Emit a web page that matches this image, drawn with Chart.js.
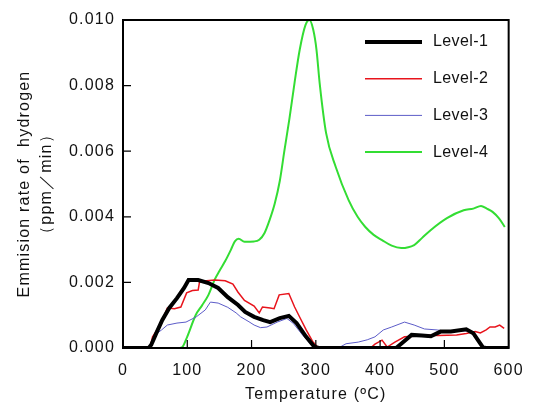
<!DOCTYPE html>
<html>
<head>
<meta charset="utf-8">
<script src="https://cdn.jsdelivr.net/npm/chart.js"></script>
<style>
  body { margin: 0; background: #fff; }
</style>
</head>
<body>
<canvas id="chart" width="535" height="408"></canvas>
<script>
// temperature (oC) / emission rate (ppm/min)
const level1T = [0, 20, 40, 44, 52, 61, 72, 84, 95, 102, 117, 133, 148, 163, 179, 190, 204, 218, 229, 244, 258, 270, 285, 298, 305, 425, 437, 449, 465, 479, 494, 510, 534, 545, 552, 560, 565, 600];
const level1V = [0, 0, 0, 0.0001, 0.00046, 0.00085, 0.00122, 0.00152, 0.00183, 0.00207, 0.00207, 0.00198, 0.00183, 0.00155, 0.00131, 0.0011, 0.00095, 0.00085, 0.00079, 0.00091, 0.00098, 0.00076, 0.00034, 0.00003, 0, 0, 0.0002, 0.0004, 0.00038, 0.00036, 0.0005, 0.0005, 0.00057, 0.00045, 0.00025, 0.00002, 0, 0];

const level2T = [0, 42, 46, 53, 60, 69, 80, 90, 99, 108, 117, 119, 130, 143, 159, 171, 179, 189, 204, 212, 217, 229, 235, 243, 258, 267, 276, 285, 295, 303, 310, 385, 392, 403, 411, 423, 438, 453, 469, 490, 519, 534, 548, 556, 565, 571, 579, 586, 593];
const level2V = [0, 0, 0.00034, 0.00055, 0.00079, 0.00122, 0.0012, 0.00125, 0.00168, 0.00175, 0.00177, 0.00201, 0.00205, 0.00207, 0.00205, 0.00195, 0.0017, 0.00145, 0.00128, 0.00107, 0.00125, 0.00122, 0.0012, 0.00162, 0.00166, 0.00125, 0.0009, 0.00055, 0.0002, 0.00002, 0, 0, 0.00012, 0.00024, 0.00003, 0.00018, 0.00034, 0.00036, 0.0004, 0.00038, 0.0004, 0.00044, 0.0005, 0.00046, 0.00055, 0.00064, 0.00064, 0.0007, 0.0006];

const level3T = [0, 42, 46, 53, 60, 69, 84, 98, 114, 128, 136, 148, 163, 176, 183, 196, 204, 214, 224, 240, 255, 265, 280, 295, 302, 335, 347, 366, 380, 392, 405, 418, 438, 453, 469, 489, 505, 525, 540, 552, 560, 600];
const level3V = [0, 0, 0.00024, 0.00045, 0.00055, 0.0007, 0.00076, 0.00079, 0.00095, 0.00116, 0.0014, 0.00137, 0.00124, 0.00107, 0.00095, 0.0008, 0.0007, 0.00062, 0.00064, 0.00079, 0.0009, 0.00075, 0.00038, 0.00005, 0, 0, 0.00013, 0.00018, 0.00025, 0.00034, 0.00055, 0.00064, 0.00079, 0.0007, 0.00058, 0.00055, 0.0005, 0.00052, 0.00052, 0.0002, 0, 0];

const level4T = [0, 40, 88, 92, 100, 113, 123, 133, 143, 150, 159, 168, 174, 180, 189, 204, 212, 220, 228, 236, 244, 251, 259, 267, 275, 284, 290, 296, 301, 306, 316, 331, 351, 365, 377, 390, 403, 418, 433, 453, 465, 479, 504, 530, 545, 557, 566, 575, 585, 594];
const level4V = [0, 0, 0, 0.00002, 0.00035, 0.001, 0.0013, 0.00162, 0.0021, 0.00235, 0.00265, 0.003, 0.00325, 0.00333, 0.00324, 0.00325, 0.0033, 0.0035, 0.0039, 0.0044, 0.0051, 0.006, 0.007, 0.0081, 0.0091, 0.00985, 0.01, 0.0097, 0.0091, 0.00807, 0.00655, 0.00552, 0.00451, 0.004, 0.00369, 0.00345, 0.00329, 0.00312, 0.00305, 0.00314, 0.00335, 0.0036, 0.00396, 0.0042, 0.00425, 0.00433, 0.00425, 0.00415, 0.00395, 0.00369];

const xTicks = [0, 100, 200, 300, 400, 500, 600];
const yTicks = [0, 0.002, 0.004, 0.006, 0.008, 0.010];

function points(ts, vs) {
  return ts.map((t, i) => ({ x: t, y: vs[i] }));
}

const font = "'Liberation Sans', Arial, sans-serif";

// the original lettering is spaced out a bit
const spacing = {
  id: "spacing",
  beforeDraw(chart) { chart.ctx.letterSpacing = "1.2px"; },
  afterDraw(chart) { chart.ctx.letterSpacing = "0px"; }
};

// box, inward ticks and the legend inside the plot
const frame = {
  id: "frame",
  afterDraw(chart) {
    const { ctx, chartArea: a, scales } = chart;
    ctx.save();
    ctx.strokeStyle = "#000";
    ctx.lineWidth = 2;
    ctx.strokeRect(a.left, a.top, a.right - a.left, a.bottom - a.top);
    ctx.lineWidth = 1.2;
    ctx.beginPath();
    xTicks.forEach(t => {
      const x = scales.x.getPixelForValue(t);
      ctx.moveTo(x, a.bottom);
      ctx.lineTo(x, a.bottom - 8);
    });
    yTicks.forEach(t => {
      const y = scales.y.getPixelForValue(t);
      ctx.moveTo(a.left, y);
      ctx.lineTo(a.left + 8, y);
    });
    ctx.stroke();

    ctx.font = "16px " + font;
    ctx.letterSpacing = "0.4px";
    ctx.textBaseline = "middle";
    ctx.fillStyle = "#111";
    chart.data.datasets.forEach((ds, i) => {
      const y = a.top + 22 + i * 36.7;
      ctx.strokeStyle = ds.borderColor;
      ctx.lineWidth = ds.borderWidth;
      ctx.beginPath();
      ctx.moveTo(a.left + 242, y);
      ctx.lineTo(a.left + 299, y);
      ctx.stroke();
      ctx.fillText(ds.label, a.left + 310, y);
    });
    ctx.restore();
  }
};

new Chart(document.getElementById("chart"), {
  type: "line",
  data: {
    datasets: [
      { label: "Level-1", data: points(level1T, level1V), borderColor: "#000000", borderWidth: 4 },
      { label: "Level-2", data: points(level2T, level2V), borderColor: "#e8141c", borderWidth: 1.5 },
      { label: "Level-3", data: points(level3T, level3V), borderColor: "#5c5cc8", borderWidth: 1 },
      { label: "Level-4", data: points(level4T, level4V), borderColor: "#33dd33", borderWidth: 2, cubicInterpolationMode: "monotone" }
    ]
  },
  options: {
    responsive: false,
    animation: false,
    elements: { point: { radius: 0 }, line: { tension: 0 } },
    layout: { padding: { top: 20, right: 19, left: 0, bottom: 0 } },
    plugins: { legend: { display: false }, tooltip: { enabled: false } },
    scales: {
      x: {
        type: "linear",
        min: 0,
        max: 600,
        afterFit: s => { s.height = 60; },
        afterBuildTicks: s => { s.ticks = xTicks.map(v => ({ value: v })); },
        grid: { display: false, drawTicks: false },
        border: { display: false },
        ticks: { color: "#111", font: { family: font, size: 16 }, padding: 13 },
        title: { display: true, text: "Temperature (ºC)", color: "#111", font: { family: font, size: 16 }, padding: { bottom: 4 } }
      },
      y: {
        min: 0,
        max: 0.01,
        afterFit: s => { s.width = 123; },
        afterBuildTicks: s => { s.ticks = yTicks.map(v => ({ value: v })); },
        grid: { display: false, drawTicks: false },
        border: { display: false },
        ticks: { color: "#111", font: { family: font, size: 16 }, padding: 8, callback: v => v.toFixed(3) },
        title: {
          display: true,
          text: ["Emmision rate of  hydrogen", "（ppm／min）"],
          color: "#111",
          font: { family: font, size: 16, lineHeight: 1.375 },
          padding: { top: 14 }
        }
      }
    }
  },
  plugins: [spacing, frame]
});
</script>
</body>
</html>
